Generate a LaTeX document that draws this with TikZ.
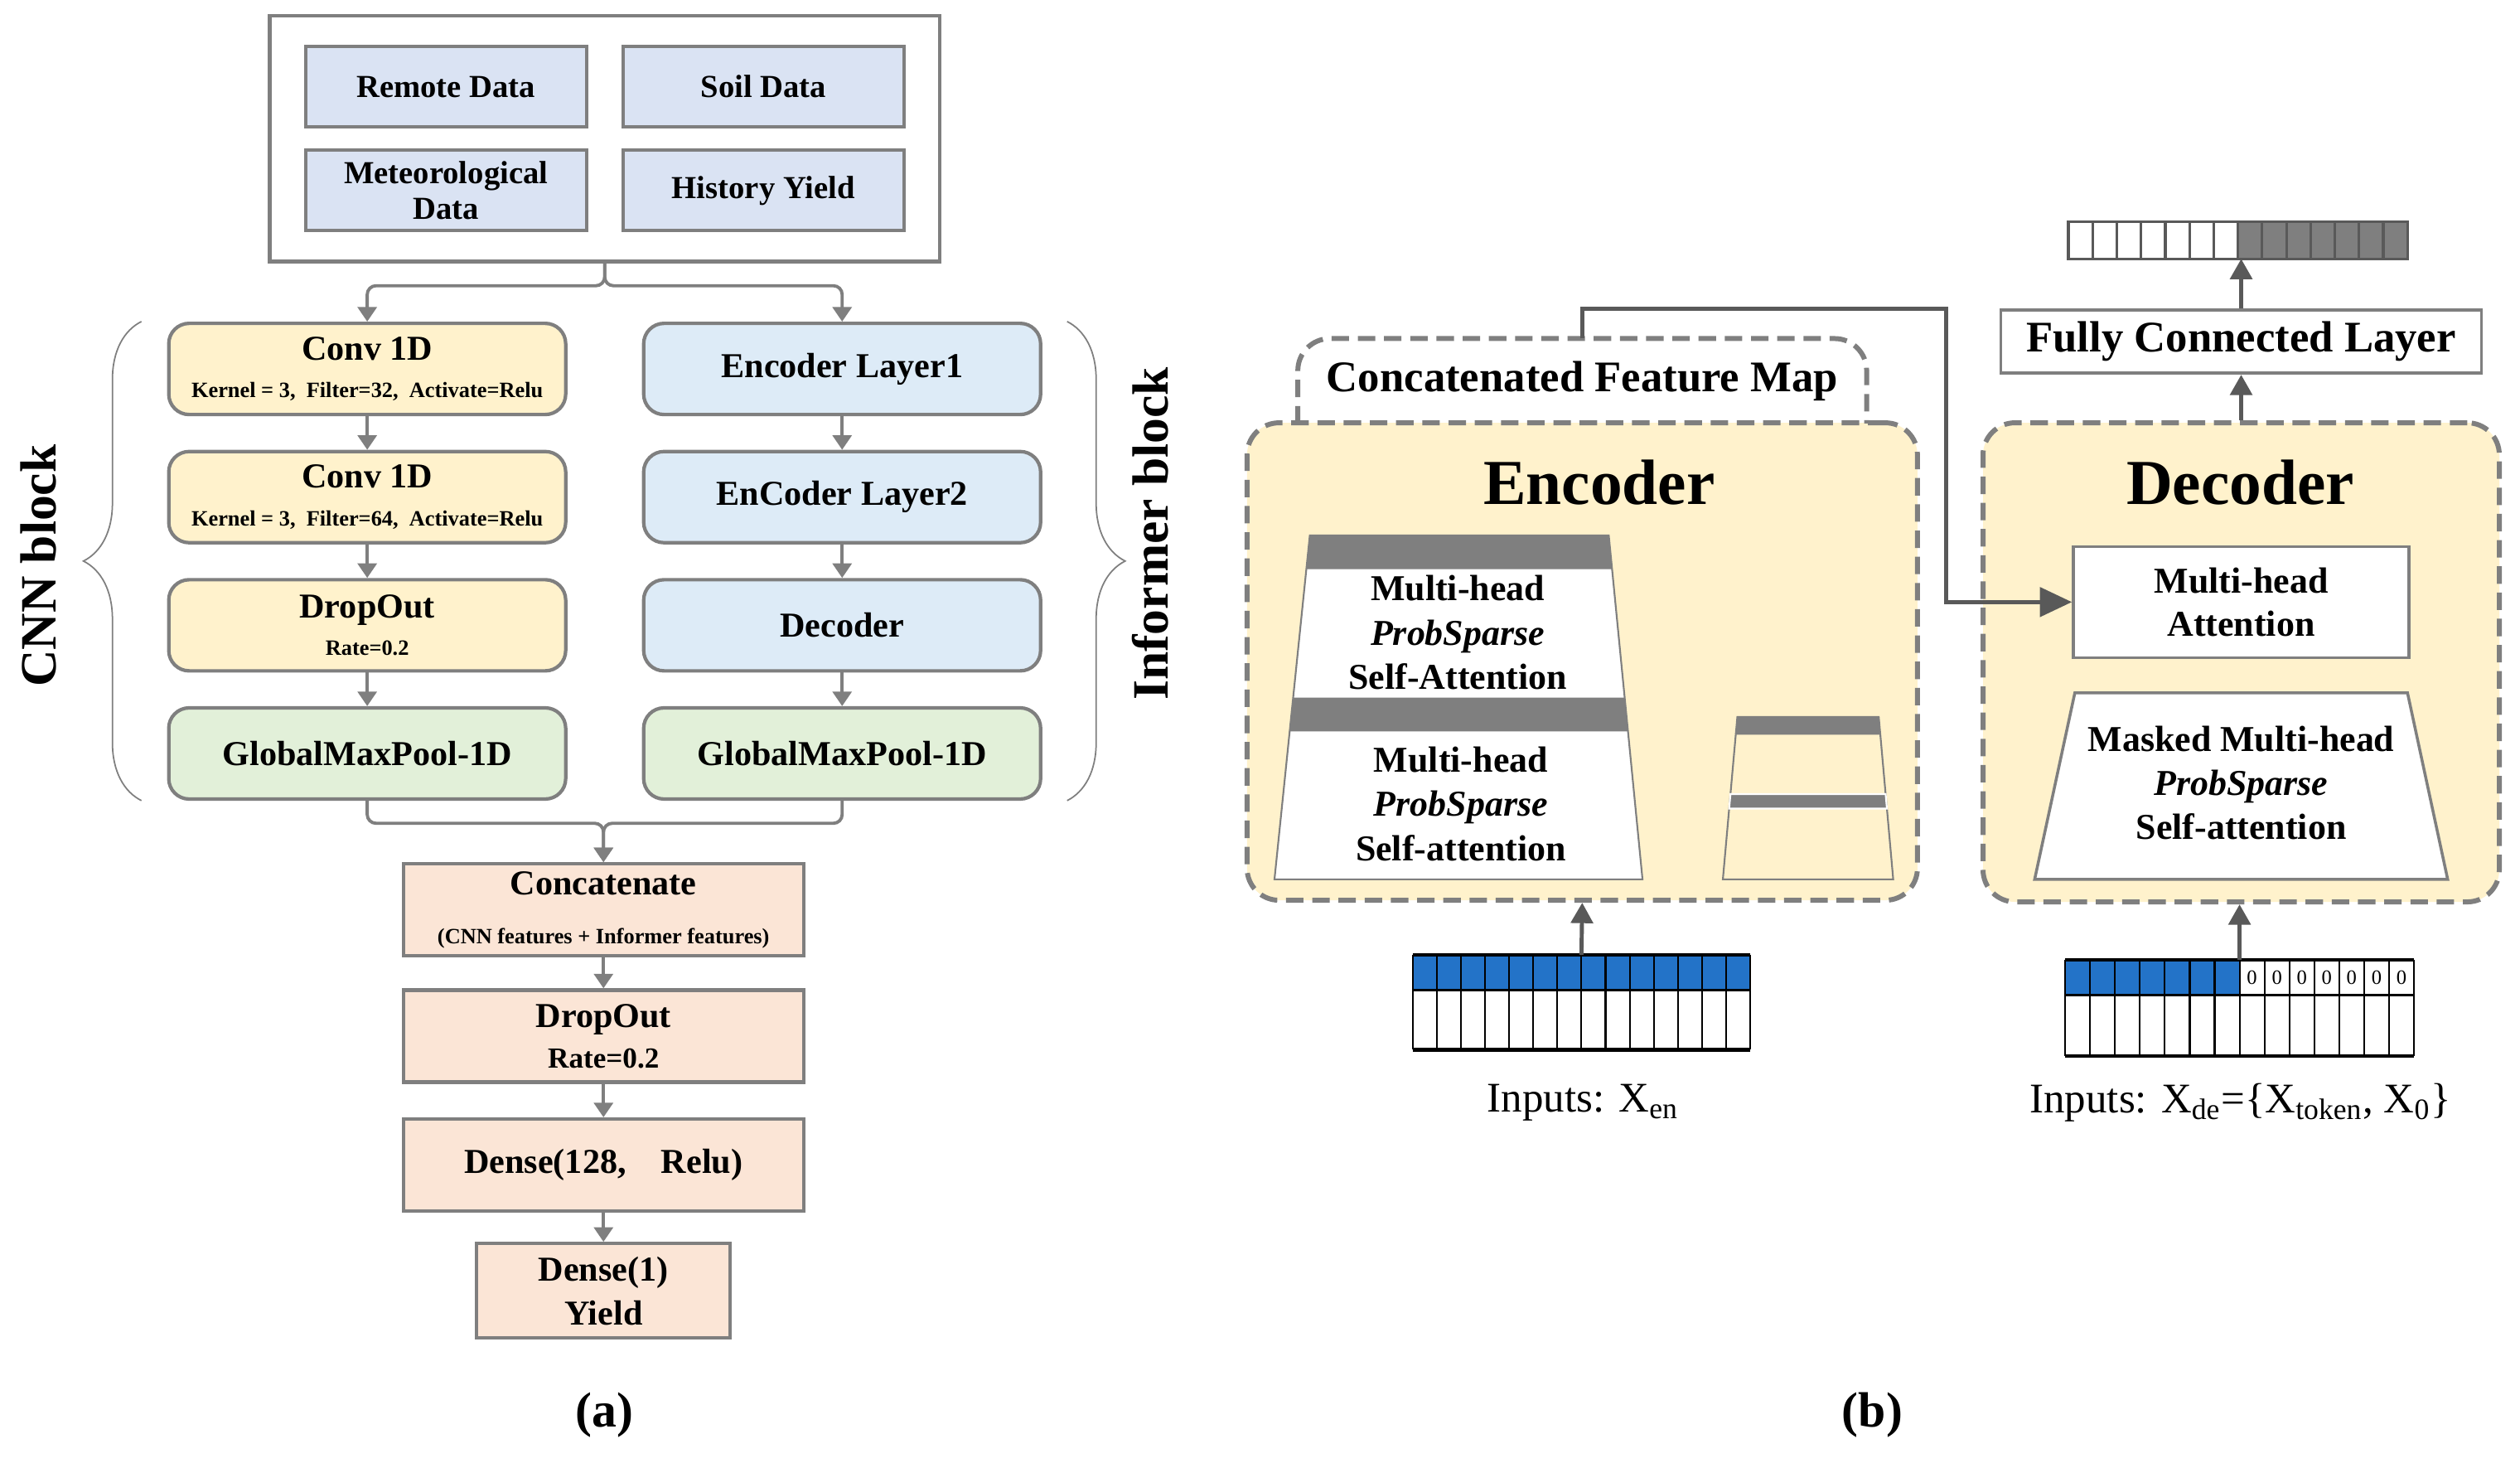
\documentclass[tikz,border=0pt]{standalone}
\usepackage{fontspec}
\setmainfont{Liberation Serif}
\usepackage{tikz}
\usetikzlibrary{arrows.meta, positioning, fit, calc, decorations.pathreplacing}
\definecolor{cgray}{HTML}{7F7F7F}
\definecolor{cdark}{HTML}{595959}
\definecolor{cdata}{HTML}{DAE3F3}
\definecolor{cyel}{HTML}{FFF2CC}
\definecolor{csky}{HTML}{DDEBF7}
\definecolor{cgreen}{HTML}{E2F0D9}
\definecolor{cpeach}{HTML}{FBE5D6}
\definecolor{cblue}{HTML}{2373C8}
\newcommand{\smallnote}[1]{{\fontsize{7.5}{9}\selectfont #1}}
\tikzset{
  box/.style={rectangle, draw=cgray, line width=1.2pt, align=center, inner sep=1pt,
              font=\bfseries\fontsize{12}{14}\selectfont},
  data/.style={box, fill=cdata, minimum width=3.39cm, minimum height=0.97cm,
               font=\bfseries\fontsize{11}{13}\selectfont},
  layer/.style={box, rounded corners=7pt, minimum width=4.79cm, minimum height=1.1cm},
  cnn/.style={layer, fill=cyel},
  inf/.style={layer, fill=csky},
  pool/.style={layer, fill=cgreen},
  headbox/.style={box, fill=cpeach, minimum width=4.83cm, minimum height=1.11cm},
  dashbox/.style={draw=cgray, line width=1.7pt, dash pattern=on 6pt off 3pt, rounded corners=11pt},
  attbox/.style={box, fill=white, line width=1pt, font=\bfseries\fontsize{12.5}{15}\selectfont},
  atttext/.style={align=center, inner sep=0pt, font=\bfseries\fontsize{12.5}{15.2}\selectfont},
  bigtitle/.style={font=\bfseries\fontsize{22}{24}\selectfont, inner sep=0pt},
  blocklab/.style={rotate=90, font=\bfseries\fontsize{17.5}{20}\selectfont, inner sep=0pt},
  inlab/.style={font=\fontsize{14.5}{17}\selectfont, inner sep=0pt},
  panellab/.style={font=\bfseries\fontsize{17}{20}\selectfont, inner sep=0pt},
  flow/.style={-{Triangle[length=5pt, width=6.5pt]}, draw=cgray, line width=1.1pt},
  link/.style={-{Triangle[length=7pt, width=7.5pt]}, draw=cdark, line width=1.4pt},
  curly/.style={decorate, decoration={brace, amplitude=0.7cm}, draw=cgray, line width=0.5pt},
  cell/.style={draw=cdark, line width=0.9pt},
  zero/.style={font=\fontsize{7}{8}\selectfont, inner sep=0pt}
}

\begin{document}
\begin{tikzpicture}[x=0.019394cm, y=-0.019394cm]
  \useasboundingbox (0,0) rectangle (1568,910);

  % (a) input data
  \node[data] (rem) at (277.5,54) {Remote Data};
  \node[data] (soil) at (475,54) {Soil Data};
  \node[data] (met) at (277.5,118.5) {Meteorological\\[-1pt]Data};
  \node[data] (hist) at (475,118.5) {History Yield};
  \node[draw=cgray, line width=1.2pt, fit=(rem)(soil)(met)(hist), inner xsep=0.41cm, inner ysep=0.35cm] (inbox) {};

  % CNN block
  \node[cnn] (conv1) at (228.5,229.5) {Conv 1D\\[-1pt]\smallnote{Kernel = 3,\enspace Filter=32,\enspace Activate=Relu}};
  \node[cnn, below=0.404cm of conv1] (conv2) {Conv 1D\\[-1pt]\smallnote{Kernel = 3,\enspace Filter=64,\enspace Activate=Relu}};
  \node[cnn, below=0.404cm of conv2] (cdrop) {DropOut\\[-1pt]\smallnote{Rate=0.2}};
  \node[pool, below=0.404cm of cdrop] (cpool) {GlobalMaxPool-1D};

  % Informer block
  \node[inf] (enc1) at (524,229.5) {Encoder Layer1};
  \node[inf, below=0.404cm of enc1] (enc2) {EnCoder Layer2};
  \node[inf, below=0.404cm of enc2] (idec) {Decoder};
  \node[pool, below=0.404cm of idec] (ipool) {GlobalMaxPool-1D};

  % head
  \node[headbox] (cat) at (375.5,566) {Concatenate\\[3pt]\smallnote{(CNN features + Informer features)}};
  \node[headbox, below=0.37cm of cat] (drop) {DropOut\\{\fontsize{10}{12}\selectfont Rate=0.2}};
  \node[headbox, below=0.404cm of drop] (dense) {Dense(128,\quad Relu)};
  \node[headbox, minimum width=3.06cm, minimum height=1.14cm, below=0.35cm of dense] (yield) {Dense(1)\\[1pt]Yield};

  \draw[flow, rounded corners=3pt] (inbox.south) -- ++(0,14) -| (conv1.north);
  \draw[flow, rounded corners=3pt] (inbox.south) -- ++(0,14) -| (enc1.north);
  \foreach \a/\b in {conv1/conv2, conv2/cdrop, cdrop/cpool, enc1/enc2, enc2/idec, idec/ipool, cat/drop, drop/dense, dense/yield}
    \draw[flow] (\a) -- (\b);
  \draw[flow, rounded corners=3pt] (cpool.south) -- ++(0,14) -| (cat.north);
  \draw[flow, rounded corners=3pt] (ipool.south) -- ++(0,14) -| (cat.north);

  \draw[curly] (88,498) -- (88,200);
  \draw[curly] (664,200) -- (664,498);
  \node[blocklab] (cnnlab) at (24,352) {CNN block};
  \node[blocklab] (inflab) at (716,332) {Informer block};
  \node[panellab] (capa) at (376,880) {(a)};

  % (b) encoder
  \node[dashbox, fill=cyel, minimum width=8.09cm, minimum height=5.76cm] (enc) at (984.5,411.5) {};
  \node[minimum width=6.85cm, minimum height=1.01cm, inner sep=0pt, font=\bfseries\fontsize{15}{17}\selectfont] (cfm) at (984.5,237) {Concatenated Feature Map};
  \draw[dashbox] (cfm.south west) -- (cfm.north west) -- (cfm.north east) -- (cfm.south east);
  \node[bigtitle] (enctit) at (995,300) {Encoder};

  \coordinate (tl) at (815,333); \coordinate (tr) at (1001,333);
  \coordinate (bl) at (793,547); \coordinate (br) at (1022,547);
  \filldraw[fill=white, draw=cgray, line width=0.6pt] (tl) -- (tr) -- (br) -- (bl) -- cycle;
  \fill[cgray] (tl) -- (tr) -- ($(tr)!0.098!(br)$) -- ($(tl)!0.098!(bl)$) -- cycle;
  \fill[cgray] ($(tl)!0.472!(bl)$) -- ($(tr)!0.472!(br)$) -- ($(tr)!0.570!(br)$) -- ($(tl)!0.570!(bl)$) -- cycle;
  \node[atttext] (att1) at (907,393.5) {Multi-head\\\textit{ProbSparse}\\Self-Attention};
  \node[atttext] (att2) at (909,500) {Multi-head\\\textit{ProbSparse}\\Self-attention};

  \coordinate (sl) at (1081,446); \coordinate (sr) at (1169,446);
  \coordinate (sbl) at (1072,547); \coordinate (sbr) at (1178,547);
  \draw[cgray, line width=0.6pt] (sl) -- (sr) -- (sbr) -- (sbl) -- cycle;
  \fill[cgray] (sl) -- (sr) -- ($(sr)!0.109!(sbr)$) -- ($(sl)!0.109!(sbl)$) -- cycle;
  \filldraw[cgray, draw=white, line width=0.6pt] ($(sl)!0.475!(sbl)$) -- ($(sr)!0.475!(sbr)$) -- ($(sr)!0.564!(sbr)$) -- ($(sl)!0.564!(sbl)$) -- cycle;

  % encoder inputs
  \fill[cblue] (879,594) rectangle (1089,616);
  \foreach \i in {0,...,14} \draw[black, line width=0.6pt] ({879+15*\i},594) -- ({879+15*\i},653);
  \draw[black, line width=1.2pt] (879,594) -- (1089,594) (879,653) -- (1089,653);
  \draw[black, line width=0.8pt] (879,616) -- (1089,616);
  \coordinate (xen) at (984,594);
  \draw[link] (xen) -- (enc.south);
  \node[inlab] (xenlab) at (985,686) {Inputs: X\textsubscript{en}};

  % decoder
  \node[dashbox, fill=cyel, minimum width=6.23cm, minimum height=5.78cm] (dec) at (1394.5,412) {};
  \node[bigtitle] (dectit) at (1394,300) {Decoder};
  \node[attbox, minimum width=4.05cm, minimum height=1.34cm] (mha) at (1394.5,374.5) {Multi-head\\Attention};
  \filldraw[fill=white, draw=cgray, line width=1pt] (1291,431) -- (1498,431) -- (1523,547) -- (1266,547) -- cycle;
  \node[atttext] (mask) at (1394.5,487) {Masked Multi-head\\\textit{ProbSparse}\\Self-attention};

  % decoder inputs
  \fill[cblue] (1285,597) rectangle (1393.5,619);
  \foreach \i in {0,...,14} \draw[black, line width=0.6pt] ({1285+15.5*\i},597) -- ({1285+15.5*\i},657);
  \draw[black, line width=1.2pt] (1285,597) -- (1502,597) (1285,657) -- (1502,657);
  \draw[black, line width=0.8pt] (1285,619) -- (1502,619);
  \foreach \i in {0,...,6} \node[zero] (z\i) at ({1401.25+15.5*\i},608) {0};
  \coordinate (xde) at (1393.5,597);
  \draw[link] (xde) -- (xde |- dec.south);
  \node[inlab] (xdelab) at (1394,686) {Inputs: X\textsubscript{de}=\{X\textsubscript{token}, X\textsubscript{0}\}};

  % output
  \node[box, fill=white, line width=1.1pt, minimum width=5.8cm, minimum height=0.76cm, font=\bfseries\fontsize{15}{17}\selectfont] (fc) at (1394.5,212.5) {Fully Connected Layer};
  \foreach \i in {0,...,6} \draw[cell, fill=white] ({1287+15.07*\i},138) rectangle ++(15.07,23);
  \foreach \i in {7,...,13} \draw[cell, fill=cgray] ({1287+15.07*\i},138) rectangle ++(15.07,23);
  \coordinate (orow) at (1392.5,161);
  \draw[link] (dec.north) -- (dec.north |- fc.south);
  \draw[link] (fc.north) -- (fc.north |- orow);

  \coordinate (turn) at (1211,192);
  \draw[link, -{Triangle[length=11pt, width=10pt]}] (cfm.north) |- (turn) |- (mha.west);
  \node[panellab] (capb) at (1165,880) {(b)};
\end{tikzpicture}
\end{document}
